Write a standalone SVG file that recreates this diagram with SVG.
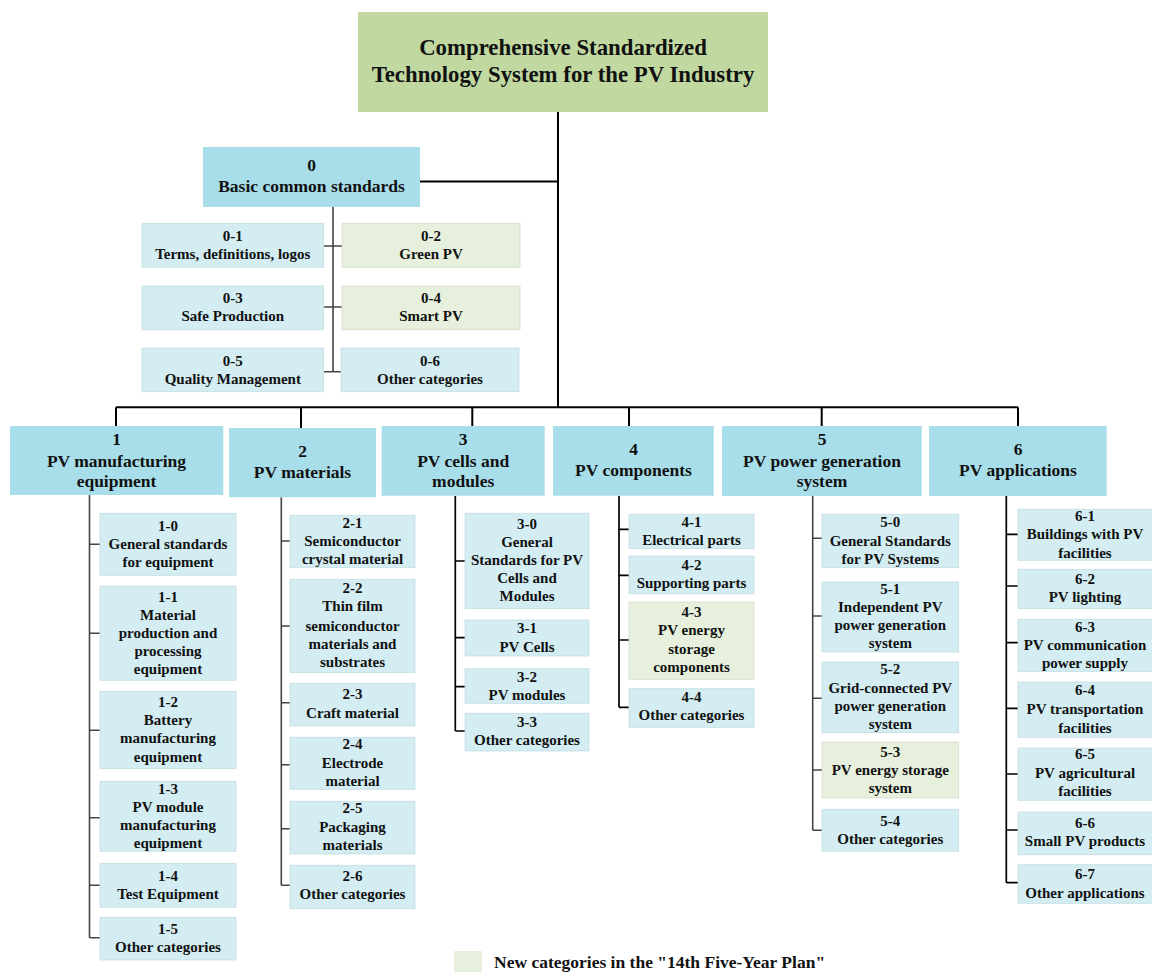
<svg xmlns="http://www.w3.org/2000/svg" width="1152" height="972" viewBox="0 0 1152 972">
  <style>
    text { font-family: "Liberation Serif", "Times New Roman", serif; font-weight: bold; fill: #111; text-anchor: middle; }
    .tt { font-size: 22.8px; }
    .ct { font-size: 17.5px; }
    .st { font-size: 15px; }
    .lt { font-size: 17.5px; text-anchor: start; }
    .root { fill: #c1d9a1; }
    .cat { fill: #a8dee9; }
    .sub { fill: #d3edf2; stroke: #c6dde2; stroke-width: 0.8; }
    .new { fill: #e6f0dd; stroke: #d3ddcb; stroke-width: 0.8; }
    .main { stroke: #000; stroke-width: 2; fill: none; }
    .branch { stroke: #444; stroke-width: 1.6; fill: none; }
  </style>

  <!-- connectors -->
  <g id="connectors">
    <!-- trunk and top-level bus -->
    <path class="main" d="M558 112 V407.3 M420 181.5 H558 M116 407.3 H1018 M116 407.3 V426 M301 407.3 V428 M472.3 407.3 V426 M629 407.3 V426 M821.7 407.3 V426 M1018 407.3 V426"/>
    <!-- group 0 -->
    <path class="branch" d="M333 207 V371.7 M323.7 246 H342 M323.7 307 H342 M323.7 371.7 H342"/>
    <!-- group 1 -->
    <path class="branch" d="M89.5 495 V937.7 M89.5 544.3 H100 M89.5 633.3 H100 M89.5 730.3 H100 M89.5 817.7 H100 M89.5 885.3 H100 M89.5 937.7 H100"/>
    <!-- group 2 -->
    <path class="branch" d="M281.3 497.3 V885.3 M281.3 541 H290 M281.3 626 H290 M281.3 702.7 H290 M281.3 764.7 H290 M281.3 828.7 H290 M281.3 885.3 H290"/>
    <!-- group 3 -->
    <path class="main" style="stroke-width:1.7" d="M455.3 495.7 V731 M455.3 561 H465 M455.3 637.7 H465 M455.3 686.7 H465 M455.3 731 H465"/>
    <!-- group 4 -->
    <path class="main" style="stroke-width:1.7" d="M619 495.7 V707.3 M619 529.3 H629 M619 575.3 H629 M619 640 H629 M619 707.3 H629"/>
    <!-- group 5 -->
    <path class="branch" d="M812.7 496 V830.3 M812.7 538.3 H822 M812.7 616 H822 M812.7 698.3 H822 M812.7 770 H822 M812.7 830.3 H822"/>
    <!-- group 6 -->
    <path class="main" style="stroke-width:1.7" d="M1006.3 496 V882.7 M1006.3 534.3 H1018 M1006.3 586 H1018 M1006.3 642.7 H1018 M1006.3 708.3 H1018 M1006.3 774 H1018 M1006.3 830 H1018 M1006.3 882.7 H1018"/>
  </g>

  <!-- root -->
  <g id="root">
    <rect class="root" x="358" y="12" width="410" height="100"/>
    <text class="tt" x="563" y="55">Comprehensive Standardized</text>
    <text class="tt" x="563" y="82">Technology System for the PV Industry</text>
  </g>

  <!-- 0 basic common standards -->
  <g id="cat-0">
    <rect class="cat" x="203" y="147" width="217" height="60"/>
    <text class="ct" x="311.5" y="170.5">0</text>
    <text class="ct" x="311.5" y="192">Basic common standards</text>
  </g>
  <g id="n0-1"><rect class="sub" x="142" y="223.3" width="181.7" height="44"/>
    <text class="st" x="232.8" y="240.7">0-1</text><text class="st" x="232.8" y="258.7">Terms, definitions, logos</text></g>
  <g id="n0-2"><rect class="new" x="342" y="223.3" width="178" height="44"/>
    <text class="st" x="431" y="240.7">0-2</text><text class="st" x="431" y="258.7">Green PV</text></g>
  <g id="n0-3"><rect class="sub" x="142" y="286" width="181.7" height="43.7"/>
    <text class="st" x="232.8" y="303.3">0-3</text><text class="st" x="232.8" y="320.7">Safe Production</text></g>
  <g id="n0-4"><rect class="new" x="342" y="286" width="178" height="43.7"/>
    <text class="st" x="431" y="303.3">0-4</text><text class="st" x="431" y="320.7">Smart PV</text></g>
  <g id="n0-5"><rect class="sub" x="142" y="348" width="181.7" height="43.7"/>
    <text class="st" x="232.8" y="366">0-5</text><text class="st" x="232.8" y="384">Quality Management</text></g>
  <g id="n0-6"><rect class="sub" x="341" y="348" width="178" height="43.7"/>
    <text class="st" x="430" y="366">0-6</text><text class="st" x="430" y="384">Other categories</text></g>

  <!-- 1 PV manufacturing equipment -->
  <g id="cat-1">
    <rect class="cat" x="10" y="426" width="213.3" height="69"/>
    <text class="ct" x="116.5" y="445">1</text>
    <text class="ct" x="116.5" y="466.7">PV manufacturing</text>
    <text class="ct" x="116.5" y="487.3">equipment</text>
  </g>
  <g id="n1-0"><rect class="sub" x="100" y="513.3" width="136" height="62"/>
    <text class="st" x="168" y="530.7">1-0</text><text class="st" x="168" y="549.3">General standards</text><text class="st" x="168" y="567.3">for equipment</text></g>
  <g id="n1-1"><rect class="sub" x="100" y="586" width="136" height="94.3"/>
    <text class="st" x="168" y="602">1-1</text><text class="st" x="168" y="620">Material</text><text class="st" x="168" y="638">production and</text><text class="st" x="168" y="656">processing</text><text class="st" x="168" y="674">equipment</text></g>
  <g id="n1-2"><rect class="sub" x="100" y="691.3" width="136" height="77.4"/>
    <text class="st" x="168" y="706.7">1-2</text><text class="st" x="168" y="725.3">Battery</text><text class="st" x="168" y="743.3">manufacturing</text><text class="st" x="168" y="762">equipment</text></g>
  <g id="n1-3"><rect class="sub" x="100" y="781.3" width="136" height="70"/>
    <text class="st" x="168" y="794">1-3</text><text class="st" x="168" y="812">PV module</text><text class="st" x="168" y="830">manufacturing</text><text class="st" x="168" y="848">equipment</text></g>
  <g id="n1-4"><rect class="sub" x="100" y="863.3" width="136" height="44"/>
    <text class="st" x="168" y="881">1-4</text><text class="st" x="168" y="899.3">Test Equipment</text></g>
  <g id="n1-5"><rect class="sub" x="100" y="917.3" width="136" height="42.7"/>
    <text class="st" x="168" y="934">1-5</text><text class="st" x="168" y="952">Other categories</text></g>

  <!-- 2 PV materials -->
  <g id="cat-2">
    <rect class="cat" x="229" y="428" width="147" height="69.3"/>
    <text class="ct" x="302.5" y="457.3">2</text>
    <text class="ct" x="302.5" y="478.3">PV materials</text>
  </g>
  <g id="n2-1"><rect class="sub" x="290" y="515.3" width="125" height="52.4"/>
    <text class="st" x="352.5" y="527.7">2-1</text><text class="st" x="352.5" y="546">Semiconductor</text><text class="st" x="352.5" y="563.7">crystal material</text></g>
  <g id="n2-2"><rect class="sub" x="290" y="579.3" width="125" height="93.4"/>
    <text class="st" x="352.5" y="593.3">2-2</text><text class="st" x="352.5" y="611.3">Thin film</text><text class="st" x="352.5" y="630.7">semiconductor</text><text class="st" x="352.5" y="648.7">materials and</text><text class="st" x="352.5" y="666.7">substrates</text></g>
  <g id="n2-3"><rect class="sub" x="290" y="683.3" width="125" height="42.7"/>
    <text class="st" x="352.5" y="699.3">2-3</text><text class="st" x="352.5" y="717.7">Craft material</text></g>
  <g id="n2-4"><rect class="sub" x="290" y="737.3" width="125" height="52"/>
    <text class="st" x="352.5" y="749.3">2-4</text><text class="st" x="352.5" y="767.7">Electrode</text><text class="st" x="352.5" y="786">material</text></g>
  <g id="n2-5"><rect class="sub" x="290" y="801.3" width="125" height="52.7"/>
    <text class="st" x="352.5" y="813.3">2-5</text><text class="st" x="352.5" y="832">Packaging</text><text class="st" x="352.5" y="850">materials</text></g>
  <g id="n2-6"><rect class="sub" x="290" y="865.3" width="125" height="43.4"/>
    <text class="st" x="352.5" y="881.3">2-6</text><text class="st" x="352.5" y="899.3">Other categories</text></g>

  <!-- 3 PV cells and modules -->
  <g id="cat-3">
    <rect class="cat" x="381.7" y="426" width="163" height="69.7"/>
    <text class="ct" x="463.2" y="445">3</text>
    <text class="ct" x="463.2" y="466.7">PV cells and</text>
    <text class="ct" x="463.2" y="487.3">modules</text>
  </g>
  <g id="n3-0"><rect class="sub" x="465" y="513.3" width="124" height="95.4"/>
    <text class="st" x="527" y="528.7">3-0</text><text class="st" x="527" y="546.7">General</text><text class="st" x="527" y="565">Standards for PV</text><text class="st" x="527" y="583.3">Cells and</text><text class="st" x="527" y="601.3">Modules</text></g>
  <g id="n3-1"><rect class="sub" x="465" y="620" width="124" height="36"/>
    <text class="st" x="527" y="633.3">3-1</text><text class="st" x="527" y="651.7">PV Cells</text></g>
  <g id="n3-2"><rect class="sub" x="465" y="668.7" width="124" height="34.6"/>
    <text class="st" x="527" y="682">3-2</text><text class="st" x="527" y="700">PV modules</text></g>
  <g id="n3-3"><rect class="sub" x="465" y="713.3" width="124" height="37.7"/>
    <text class="st" x="527" y="726.7">3-3</text><text class="st" x="527" y="745.3">Other categories</text></g>

  <!-- 4 PV components -->
  <g id="cat-4">
    <rect class="cat" x="553" y="426" width="160.7" height="69.7"/>
    <text class="ct" x="633.5" y="454.6">4</text>
    <text class="ct" x="633.5" y="476">PV components</text>
  </g>
  <g id="n4-1"><rect class="sub" x="629" y="514.3" width="125" height="34.4"/>
    <text class="st" x="691.5" y="526.7">4-1</text><text class="st" x="691.5" y="545.3">Electrical parts</text></g>
  <g id="n4-2"><rect class="sub" x="629" y="556" width="125" height="37.7"/>
    <text class="st" x="691.5" y="570">4-2</text><text class="st" x="691.5" y="588">Supporting parts</text></g>
  <g id="n4-3"><rect class="new" x="629" y="602" width="125" height="77.3"/>
    <text class="st" x="691.5" y="616.7">4-3</text><text class="st" x="691.5" y="635.3">PV energy</text><text class="st" x="691.5" y="653.7">storage</text><text class="st" x="691.5" y="672">components</text></g>
  <g id="n4-4"><rect class="sub" x="629" y="688.7" width="125" height="38.6"/>
    <text class="st" x="691.5" y="702">4-4</text><text class="st" x="691.5" y="720">Other categories</text></g>

  <!-- 5 PV power generation system -->
  <g id="cat-5">
    <rect class="cat" x="722" y="426" width="199.7" height="70"/>
    <text class="ct" x="822" y="445">5</text>
    <text class="ct" x="822" y="466.7">PV power generation</text>
    <text class="ct" x="822" y="487.3">system</text>
  </g>
  <g id="n5-0"><rect class="sub" x="822" y="514.3" width="136.7" height="53.4"/>
    <text class="st" x="890.3" y="526.7">5-0</text><text class="st" x="890.3" y="546">General Standards</text><text class="st" x="890.3" y="563.7">for PV Systems</text></g>
  <g id="n5-1"><rect class="sub" x="822" y="582" width="136.7" height="70"/>
    <text class="st" x="890.3" y="594.3">5-1</text><text class="st" x="890.3" y="612">Independent PV</text><text class="st" x="890.3" y="630">power generation</text><text class="st" x="890.3" y="647.7">system</text></g>
  <g id="n5-2"><rect class="sub" x="822" y="662" width="136.7" height="70.7"/>
    <text class="st" x="890.3" y="674.3">5-2</text><text class="st" x="890.3" y="693.3">Grid-connected PV</text><text class="st" x="890.3" y="711">power generation</text><text class="st" x="890.3" y="728.7">system</text></g>
  <g id="n5-3"><rect class="new" x="822" y="742" width="136.7" height="56"/>
    <text class="st" x="890.3" y="757.3">5-3</text><text class="st" x="890.3" y="775.3">PV energy storage</text><text class="st" x="890.3" y="792.7">system</text></g>
  <g id="n5-4"><rect class="sub" x="822" y="809.3" width="136.7" height="42"/>
    <text class="st" x="890.3" y="826">5-4</text><text class="st" x="890.3" y="843.7">Other categories</text></g>

  <!-- 6 PV applications -->
  <g id="cat-6">
    <rect class="cat" x="929" y="426" width="177.7" height="70"/>
    <text class="ct" x="1018" y="454.6">6</text>
    <text class="ct" x="1018" y="476">PV applications</text>
  </g>
  <g id="n6-1"><rect class="sub" x="1018" y="509.3" width="135" height="51"/>
    <text class="st" x="1085" y="521">6-1</text><text class="st" x="1085" y="539.3">Buildings with PV</text><text class="st" x="1085" y="558">facilities</text></g>
  <g id="n6-2"><rect class="sub" x="1018" y="569.3" width="135" height="39.4"/>
    <text class="st" x="1085" y="584">6-2</text><text class="st" x="1085" y="602">PV lighting</text></g>
  <g id="n6-3"><rect class="sub" x="1018" y="619.3" width="135" height="52.4"/>
    <text class="st" x="1085" y="632">6-3</text><text class="st" x="1085" y="650">PV communication</text><text class="st" x="1085" y="668">power supply</text></g>
  <g id="n6-4"><rect class="sub" x="1018" y="682" width="135" height="55.3"/>
    <text class="st" x="1085" y="695.3">6-4</text><text class="st" x="1085" y="714">PV transportation</text><text class="st" x="1085" y="732.7">facilities</text></g>
  <g id="n6-5"><rect class="sub" x="1018" y="748" width="135" height="52.3"/>
    <text class="st" x="1085" y="759.3">6-5</text><text class="st" x="1085" y="778">PV agricultural</text><text class="st" x="1085" y="796">facilities</text></g>
  <g id="n6-6"><rect class="sub" x="1018" y="812" width="135" height="42.7"/>
    <text class="st" x="1085" y="827.7">6-6</text><text class="st" x="1085" y="846">Small PV products</text></g>
  <g id="n6-7"><rect class="sub" x="1018" y="864.7" width="135" height="38.6"/>
    <text class="st" x="1085" y="879.3">6-7</text><text class="st" x="1085" y="898">Other applications</text></g>

  <!-- legend -->
  <g id="legend">
    <rect class="new" x="454" y="951" width="28" height="22" style="stroke:none"/>
    <text class="lt" x="494" y="968">New categories in the "14th Five-Year Plan"</text>
  </g>
</svg>
